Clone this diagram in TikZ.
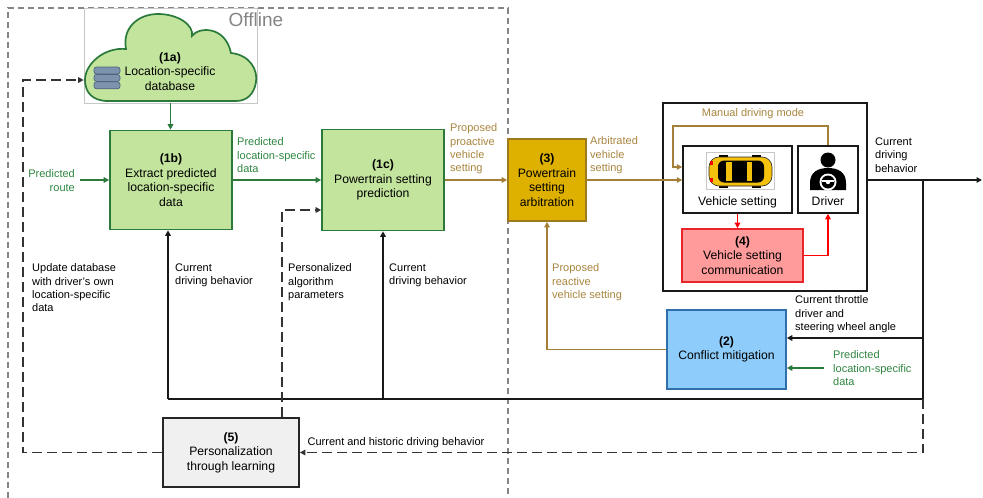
\documentclass[tikz,border=0pt]{standalone}
\usepackage{fontspec}
\setmainfont{Liberation Sans}
\usetikzlibrary{arrows.meta,calc}

\definecolor{grfill}{HTML}{C3E49D}
\definecolor{grline}{HTML}{2B7A3B}
\definecolor{grtext}{HTML}{2E8540}
\definecolor{gdfill}{HTML}{DEB000}
\definecolor{gdline}{HTML}{9E7A1C}
\definecolor{gdtext}{HTML}{A8843E}
\definecolor{gdwire}{HTML}{A57F38}
\definecolor{pkfill}{HTML}{FF9B9B}
\definecolor{pkline}{HTML}{E8262A}
\definecolor{blfill}{HTML}{8ECDFB}
\definecolor{blline}{HTML}{2F6FAE}
\definecolor{gyfill}{HTML}{F0F0F0}
\definecolor{dashgray}{HTML}{333333}
\definecolor{offgray}{HTML}{858585}
\definecolor{dbfill}{HTML}{7C93AD}
\definecolor{dbline}{HTML}{4E6580}
\definecolor{caryellow}{HTML}{F4C20D}

\newcommand\boxtxt{\fontsize{12.2}{14.5}\selectfont}
\newcommand\lbltxt{\fontsize{11}{13.4}\selectfont}

\tikzset{
  boxbase/.style={draw, line width=1.6pt, align=center, inner sep=2pt, font=\boxtxt},
  greenbox/.style={boxbase, fill=grfill, draw=grline},
  goldbox/.style={boxbase, fill=gdfill, draw=gdline},
  pinkbox/.style={boxbase, fill=pkfill, draw=pkline},
  bluebox/.style={boxbase, fill=blfill, draw=blline},
  graybox/.style={boxbase, fill=gyfill, draw=black!85},
  framebox/.style={draw=black!90, line width=1.5pt, inner sep=0pt},
  lbl/.style={font=\lbltxt, align=left, inner sep=0pt, anchor=north west},
  tipend/.style={-{Triangle[length=5.5pt,width=5.5pt]}},
  blackwire/.style={line width=1.6pt, draw=black!90},
  blackarrow/.style={blackwire, tipend},
  greenarrow/.style={line width=1.6pt, draw=grline, tipend},
  goldwire/.style={line width=1.6pt, draw=gdwire},
  goldarrow/.style={goldwire, tipend},
  redarrow/.style={line width=1.6pt, draw=red, tipend},
  feedback/.style={line width=1.6pt, draw=dashgray, dash pattern=on 10pt off 5pt},
  feedbackarrow/.style={feedback, tipend},
}

\begin{document}
\begin{tikzpicture}[x=1pt,y=-1pt]
\useasboundingbox (0,0) rectangle (983,498);

% Offline region
\draw[offgray, line width=1.5pt, dash pattern=on 6pt off 4pt] (8,498) -- (8,8) -- (508,8) -- (508,498);
\node[text=offgray, font=\fontsize{19}{22}\selectfont, inner sep=0pt] (offT) at (256,20) {Offline};

% (1a) cloud with database
\node[draw=black!22, line width=0.6pt, minimum width=173pt, minimum height=95pt, inner sep=0pt] (cloudbox) at (170.5,55.5) {};
\draw[grline, fill=grfill, line width=1.7pt]
  (108,101) .. controls (92,101) and (85,92) .. (85,80)
  .. controls (85,64) and (104,47) .. (126,49)
  .. controls (122,28) and (138,14) .. (158,14)
  .. controls (178,14) and (194,25) .. (192,36)
  .. controls (198,27) and (225,25) .. (231,53)
  .. controls (250,55) and (258,70) .. (256,82)
  .. controls (254,95) and (246,101) .. (236,101)
  -- cycle;
\foreach \k in {0,1,2}{
  \filldraw[fill=dbfill, draw=dbline, line width=0.7pt, rounded corners=2.5pt]
    (94,{67+7.4*\k}) rectangle (120,{74+7.4*\k});
}
\node[align=center, inner sep=0pt, font=\boxtxt] (cloudT) at (170,71.5) {\textbf{(1a)}\\Location-specific\\database};

% main blocks
\node[greenbox, minimum width=122pt, minimum height=99pt] (b1) at (171,180) {\textbf{(1b)}\\Extract predicted\\location-specific\\data};
\node[greenbox, minimum width=122pt, minimum height=101pt] (c1) at (383,180) {\textbf{(1c)}\\Powertrain setting\\prediction};
\node[goldbox, minimum width=78pt, minimum height=82pt] (a3) at (547,180) {\textbf{(3)}\\Powertrain\\setting\\arbitration};
\node[framebox, line width=2.2pt, minimum width=204pt, minimum height=188pt] (big) at (765,197) {};
\node[framebox, minimum width=109pt, minimum height=67pt] (veh) at (737.5,179.5) {};
\node[framebox, minimum width=60pt, minimum height=67pt] (drv) at (828,179.5) {};
\node[pinkbox, minimum width=121pt, minimum height=53pt] (com) at (742.5,255.5) {\textbf{(4)}\\Vehicle setting\\communication};
\node[bluebox, minimum width=119pt, minimum height=79pt] (m2) at (726.5,349.5) {\textbf{(2)}\\Conflict mitigation};
\node[graybox, minimum width=136pt, minimum height=69pt] (p5) at (231,452.5) {\textbf{(5)}\\Personalization\\through learning};

% car seen from above
\draw[black!22, line width=0.6pt] (706,152) rectangle (774,189);
\fill[black] (719,155) rectangle (728,188);
\fill[black] (752,155) rectangle (761,188);
\filldraw[fill=caryellow, draw=black!85, line width=0.6pt, rounded corners=10pt] (709,157) rectangle (772,186);
\fill[black, rounded corners=6pt] (718,160.5) rectangle (764,182.5);
\fill[caryellow] (726,162) rectangle (732,181);
\fill[caryellow] (747,162) rectangle (752,181);
\fill[black] (735,164) rectangle (744,179);
\fill[red] (710,161) rectangle (712.5,165);
\fill[red] (710,178) rectangle (712.5,182);
\node[font=\boxtxt, inner sep=0pt] (vehT) at (737.5,202) {Vehicle setting};

% driver pictogram
\fill[black] (828,160) circle (7.5pt);
\fill[black] (810,190) -- (810,183) .. controls (810,172) and (818,168) .. (828,168)
  .. controls (838,168) and (846,172) .. (846,183) -- (846,190) -- cycle;
\fill[white] (828,182) circle (8.5pt);
\fill[black] (828,182) circle (6.5pt);
\fill[white] (828,182) circle (2.2pt);
\draw[white, line width=1.2pt] (822,181) -- (834,181);
\node[font=\boxtxt, inner sep=0pt] (drvT) at (828,201) {Driver};

% labels
\node[lbl, anchor=north east, align=right, text=grtext] (lRoute) at (75,169.5) {Predicted\\route};
\node[lbl, text=grtext] (lPredA) at (237,137.5) {Predicted\\location-specific\\data};
\node[lbl, text=gdtext] (lProact) at (450,123.5) {Proposed\\proactive\\vehicle\\setting};
\node[lbl, text=gdtext] (lArb) at (590,136.5) {Arbitrated\\vehicle\\setting};
\node[lbl, anchor=center, text=gdtext] (lManual) at (753,114) {Manual driving mode};
\node[lbl] (lOut) at (875,137.5) {Current\\driving\\behavior};
\node[lbl] (lThr) at (795,295.5) {Current throttle\\driver and\\steering wheel angle};
\node[lbl, text=grtext] (lPredB) at (833,350.5) {Predicted\\location-specific\\data};
\node[lbl, text=gdtext] (lReact) at (552,263.5) {Proposed\\reactive\\vehicle setting};
\node[lbl] (lUpd) at (32,263.5) {Update database\\with driver's own\\location-specific\\data};
\node[lbl] (lCurA) at (175,263.5) {Current\\driving behavior};
\node[lbl] (lPers) at (288,263.5) {Personalized\\algorithm\\parameters};
\node[lbl] (lCurB) at (389,263.5) {Current\\driving behavior};
\node[lbl, anchor=center] (lHist) at (396,443) {Current and historic driving behavior};

% junction points
\coordinate (routeS) at (80,180);
\coordinate (outEnd) at (982,180);
\coordinate (jR) at (923,180);
\coordinate (jT) at (923,338);
\coordinate (jB) at (923,399);
\coordinate (jL) at (168,399);
\coordinate (jM) at (383,399);
\coordinate (pdS) at (824,368);
\coordinate (mdA) at (673,126);
\coordinate (dbL) at (23,80);

% forward path
\draw[greenarrow] (cloudbox.south) -- (cloudbox.south |- b1.north);
\draw[greenarrow] (routeS) -- (routeS -| b1.west);
\draw[greenarrow] (b1.east) -- (c1.west);
\draw[goldarrow] (c1.east) -- (a3.west);
\draw[goldarrow] (a3.east) -- (a3.east -| veh.west);
\draw[goldarrow] (drv.north) |- (mdA) |- ([yshift=12.5pt]veh.west);
\draw[redarrow] (veh.south) -- (veh.south |- com.north);
\draw[redarrow] (com.east) -| (drv.south);
\draw[blackarrow] (big.east |- outEnd) -- (outEnd);

% measured behaviour fed back
\draw[blackwire] (jR) -- (jB) -- (jL);
\draw[blackarrow] (jT) -- (jT -| m2.east);
\draw[blackarrow] (jL) -- (jL |- b1.south);
\draw[blackarrow] (jM) -- (jM |- c1.south);
\draw[greenarrow] (pdS) -- (pdS -| m2.east);
\draw[goldarrow] (m2.west) -| (a3.south);

% learning loop
\draw[feedbackarrow] (jB) |- (p5.east);
\draw[feedbackarrow] ([xshift=51pt]p5.north) |- ([yshift=-30pt]c1.west);
\draw[feedbackarrow] (p5.west) -| (dbL) -- (dbL -| cloudbox.west);
\end{tikzpicture}
\end{document}
